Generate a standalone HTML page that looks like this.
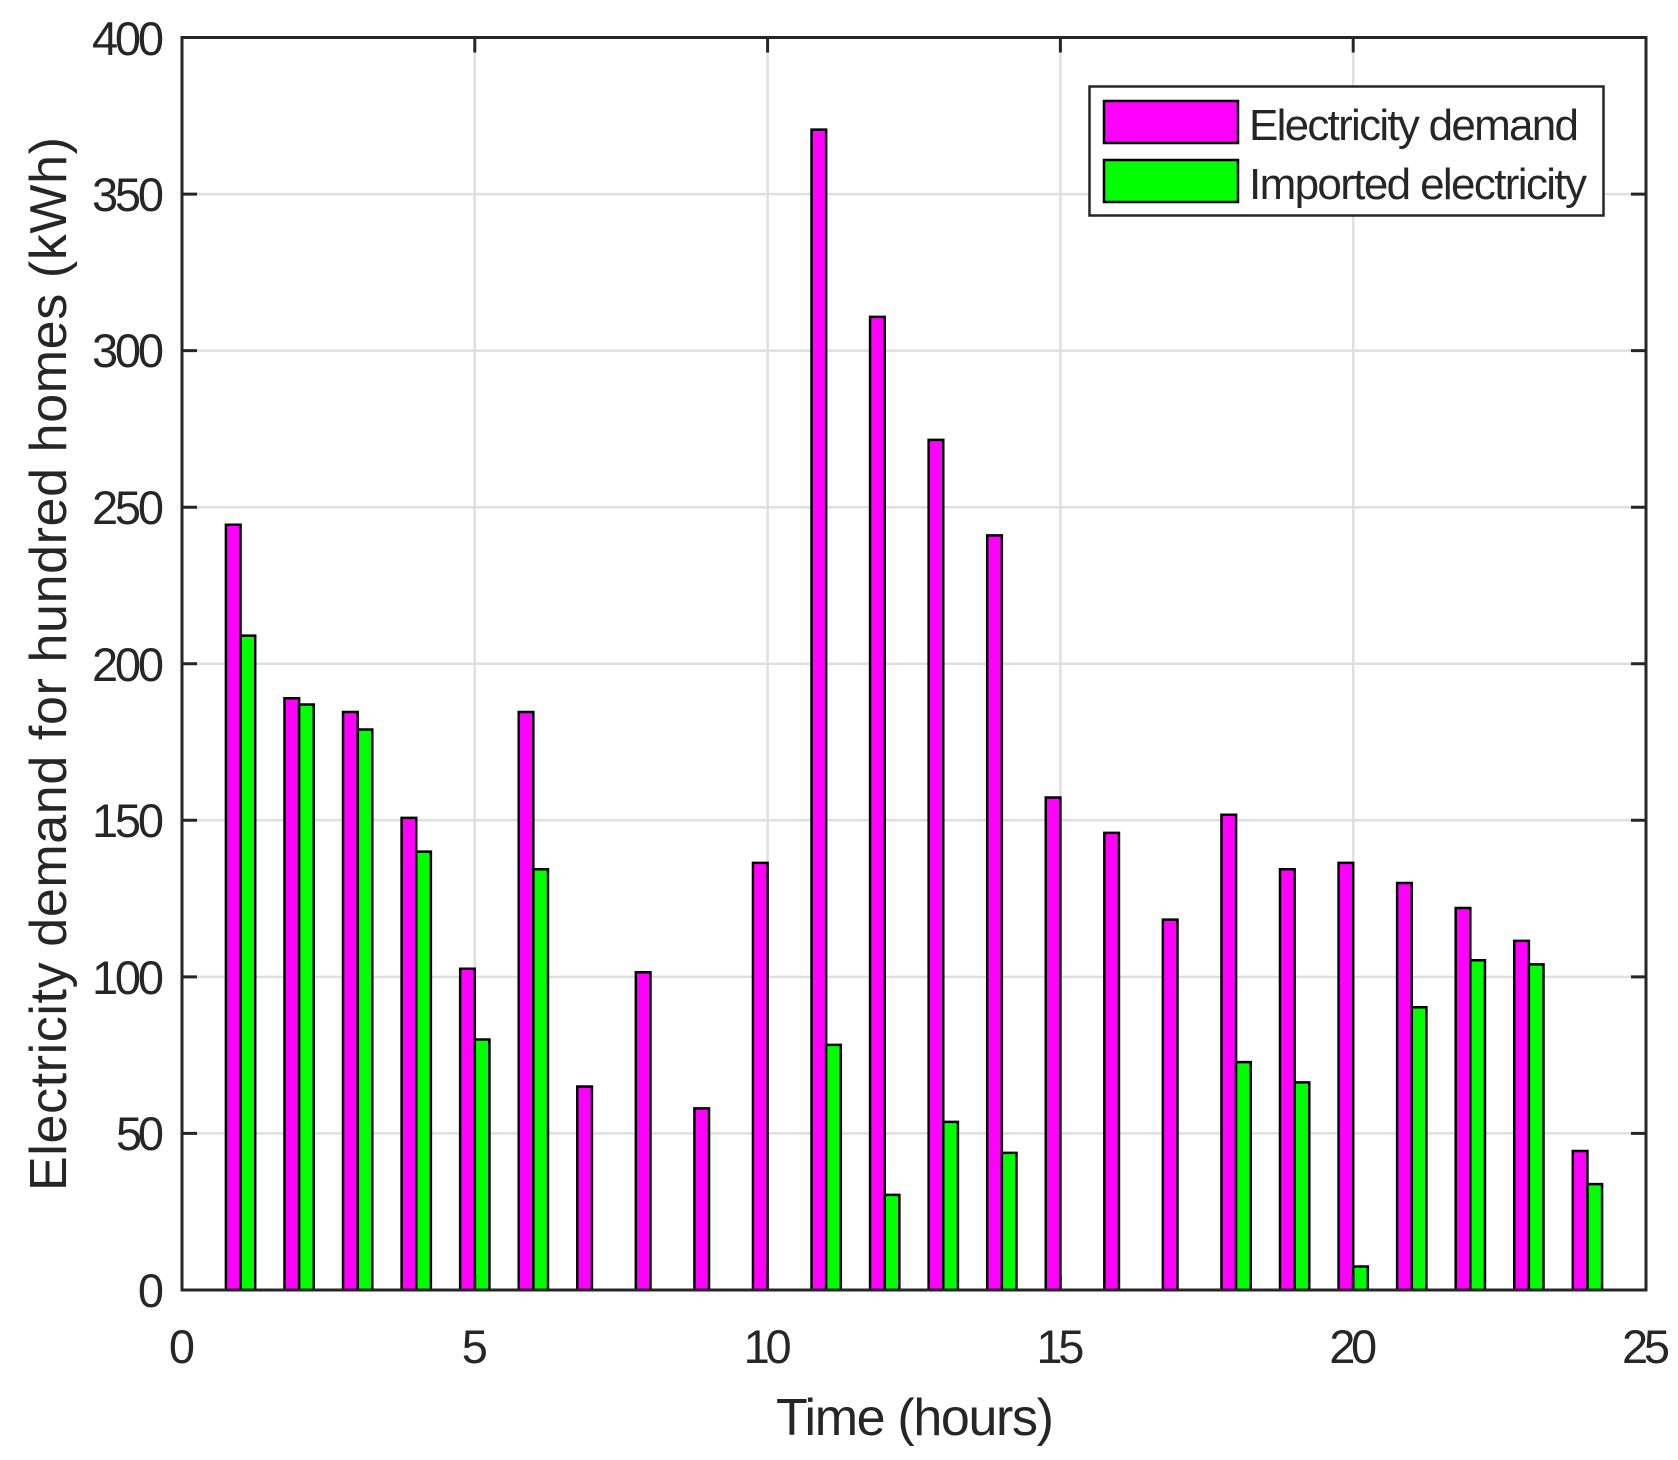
<!DOCTYPE html>
<html><head><style>
html,body{margin:0;padding:0;background:#fff;}
svg{display:block;}
text{font-family:"Liberation Sans",Arial,sans-serif;fill:#262626;}
</style></head><body>
<svg width="1678" height="1460" viewBox="0 0 1678 1460" xmlns="http://www.w3.org/2000/svg">
<rect width="1678" height="1460" fill="#fff"/>
<g stroke="#dfdfdf" stroke-width="2.5">
<line x1="474.8" y1="37.5" x2="474.8" y2="1290"/>
<line x1="767.6" y1="37.5" x2="767.6" y2="1290"/>
<line x1="1060.4" y1="37.5" x2="1060.4" y2="1290"/>
<line x1="1353.2" y1="37.5" x2="1353.2" y2="1290"/>
<line x1="182" y1="1133.4" x2="1646" y2="1133.4"/>
<line x1="182" y1="976.9" x2="1646" y2="976.9"/>
<line x1="182" y1="820.3" x2="1646" y2="820.3"/>
<line x1="182" y1="663.8" x2="1646" y2="663.8"/>
<line x1="182" y1="507.2" x2="1646" y2="507.2"/>
<line x1="182" y1="350.6" x2="1646" y2="350.6"/>
<line x1="182" y1="194.1" x2="1646" y2="194.1"/>
</g>
<g transform="translate(182,1290) scale(58.56,-3.131)" stroke="#000" stroke-width="2.5">
<g fill="#ff00ff">
<rect vector-effect="non-scaling-stroke" x="0.75" width="0.25" y="0" height="244.4"/>
<rect vector-effect="non-scaling-stroke" x="1.75" width="0.25" y="0" height="189"/>
<rect vector-effect="non-scaling-stroke" x="2.75" width="0.25" y="0" height="184.6"/>
<rect vector-effect="non-scaling-stroke" x="3.75" width="0.25" y="0" height="150.8"/>
<rect vector-effect="non-scaling-stroke" x="4.75" width="0.25" y="0" height="102.6"/>
<rect vector-effect="non-scaling-stroke" x="5.75" width="0.25" y="0" height="184.6"/>
<rect vector-effect="non-scaling-stroke" x="6.75" width="0.25" y="0" height="65"/>
<rect vector-effect="non-scaling-stroke" x="7.75" width="0.25" y="0" height="101.5"/>
<rect vector-effect="non-scaling-stroke" x="8.75" width="0.25" y="0" height="58"/>
<rect vector-effect="non-scaling-stroke" x="9.75" width="0.25" y="0" height="136.4"/>
<rect vector-effect="non-scaling-stroke" x="10.75" width="0.25" y="0" height="370.6"/>
<rect vector-effect="non-scaling-stroke" x="11.75" width="0.25" y="0" height="310.8"/>
<rect vector-effect="non-scaling-stroke" x="12.75" width="0.25" y="0" height="271.5"/>
<rect vector-effect="non-scaling-stroke" x="13.75" width="0.25" y="0" height="241"/>
<rect vector-effect="non-scaling-stroke" x="14.75" width="0.25" y="0" height="157.3"/>
<rect vector-effect="non-scaling-stroke" x="15.75" width="0.25" y="0" height="146"/>
<rect vector-effect="non-scaling-stroke" x="16.75" width="0.25" y="0" height="118.3"/>
<rect vector-effect="non-scaling-stroke" x="17.75" width="0.25" y="0" height="151.8"/>
<rect vector-effect="non-scaling-stroke" x="18.75" width="0.25" y="0" height="134.4"/>
<rect vector-effect="non-scaling-stroke" x="19.75" width="0.25" y="0" height="136.4"/>
<rect vector-effect="non-scaling-stroke" x="20.75" width="0.25" y="0" height="130"/>
<rect vector-effect="non-scaling-stroke" x="21.75" width="0.25" y="0" height="122"/>
<rect vector-effect="non-scaling-stroke" x="22.75" width="0.25" y="0" height="111.5"/>
<rect vector-effect="non-scaling-stroke" x="23.75" width="0.25" y="0" height="44.4"/>
</g>
<g fill="#00ff00">
<rect vector-effect="non-scaling-stroke" x="1" width="0.25" y="0" height="209"/>
<rect vector-effect="non-scaling-stroke" x="2" width="0.25" y="0" height="187"/>
<rect vector-effect="non-scaling-stroke" x="3" width="0.25" y="0" height="179"/>
<rect vector-effect="non-scaling-stroke" x="4" width="0.25" y="0" height="140"/>
<rect vector-effect="non-scaling-stroke" x="5" width="0.25" y="0" height="80"/>
<rect vector-effect="non-scaling-stroke" x="6" width="0.25" y="0" height="134.4"/>
<rect vector-effect="non-scaling-stroke" x="11" width="0.25" y="0" height="78.3"/>
<rect vector-effect="non-scaling-stroke" x="12" width="0.25" y="0" height="30.4"/>
<rect vector-effect="non-scaling-stroke" x="13" width="0.25" y="0" height="53.7"/>
<rect vector-effect="non-scaling-stroke" x="14" width="0.25" y="0" height="43.8"/>
<rect vector-effect="non-scaling-stroke" x="18" width="0.25" y="0" height="72.8"/>
<rect vector-effect="non-scaling-stroke" x="19" width="0.25" y="0" height="66.3"/>
<rect vector-effect="non-scaling-stroke" x="20" width="0.25" y="0" height="7.5"/>
<rect vector-effect="non-scaling-stroke" x="21" width="0.25" y="0" height="90.3"/>
<rect vector-effect="non-scaling-stroke" x="22" width="0.25" y="0" height="105.3"/>
<rect vector-effect="non-scaling-stroke" x="23" width="0.25" y="0" height="104"/>
<rect vector-effect="non-scaling-stroke" x="24" width="0.25" y="0" height="33.8"/>
</g>
</g>
<g stroke="#262626" stroke-width="3" fill="none">
<rect x="182" y="37.5" width="1464" height="1252.5"/>
<path d="M474.8 1290v-15M767.6 1290v-15M1060.4 1290v-15M1353.2 1290v-15M474.8 37.5v15M767.6 37.5v15M1060.4 37.5v15M1353.2 37.5v15"/>
<path d="M182 1133.4h15M182 976.9h15M182 820.3h15M182 663.8h15M182 507.2h15M182 350.6h15M182 194.1h15M1646 1133.4h-15M1646 976.9h-15M1646 820.3h-15M1646 663.8h-15M1646 507.2h-15M1646 350.6h-15M1646 194.1h-15"/>
</g>
<g font-size="47" text-anchor="end">
<text x="164" y="1307">0</text>
<text x="164" y="1150" textLength="48">50</text>
<text x="164" y="994" textLength="72">100</text>
<text x="164" y="837" textLength="72">150</text>
<text x="164" y="681" textLength="72">200</text>
<text x="164" y="524" textLength="72">250</text>
<text x="164" y="367" textLength="72">300</text>
<text x="164" y="211" textLength="72">350</text>
<text x="164" y="55" textLength="72">400</text>
</g>
<g font-size="47" text-anchor="middle">
<text x="182" y="1363">0</text>
<text x="474.8" y="1363">5</text>
<text x="767.6" y="1363" textLength="48">10</text>
<text x="1060.4" y="1363" textLength="48">15</text>
<text x="1353.2" y="1363" textLength="48">20</text>
<text x="1646" y="1363" textLength="48">25</text>
</g>
<text x="915" y="1435" font-size="52" text-anchor="middle" textLength="278">Time (hours)</text>
<text transform="translate(66,664) rotate(-90)" font-size="52" text-anchor="middle" textLength="1054">Electricity demand for hundred homes (kWh)</text>
<rect x="1089.5" y="86.5" width="514" height="129" fill="#fff" stroke="#262626" stroke-width="2.5"/>
<rect x="1104" y="101" width="134" height="42" fill="#ff00ff" stroke="#000" stroke-width="2.5"/>
<rect x="1104" y="160" width="134" height="42" fill="#00ff00" stroke="#000" stroke-width="2.5"/>
<text x="1249" y="140" font-size="44" textLength="330">Electricity demand</text>
<text x="1249" y="199" font-size="44" textLength="338">Imported electricity</text>
</svg>
</body></html>
